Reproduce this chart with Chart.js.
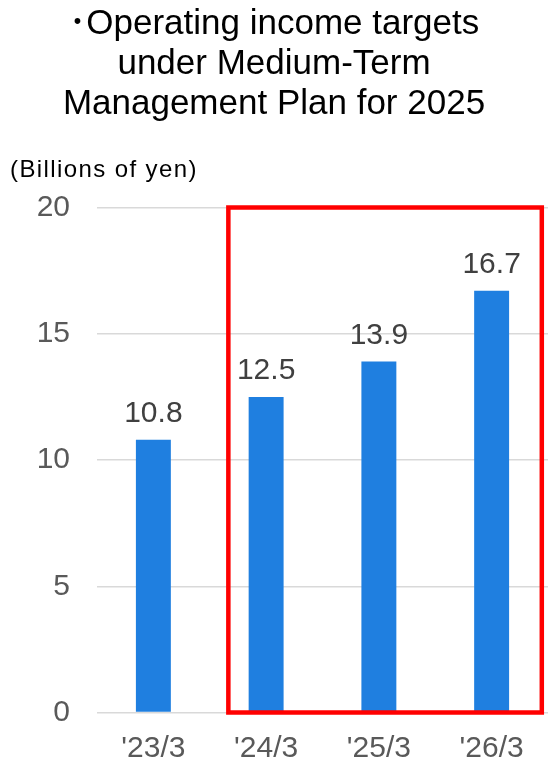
<!DOCTYPE html>
<html>
<head>
<meta charset="utf-8">
<script src="https://cdn.jsdelivr.net/npm/chart.js@4.4.1/dist/chart.umd.min.js"></script>
<style>
  html, body { margin: 0; padding: 0; background: #ffffff; }
  #wrap { width: 548px; height: 771px; }
</style>
</head>
<body>
<div id="wrap"><canvas id="incomeChart"></canvas></div>
<script>
// Operating income, billions of yen ('23/3 actual, then plan targets)
const periods = ["'23/3", "'24/3", "'25/3", "'26/3"];
const operatingIncome = [10.8, 12.5, 13.9, 16.7];
const yTicks = [0, 5, 10, 15, 20];

const titleLines = ['･Operating income targets', 'under Medium-Term', 'Management Plan for 2025'];
const unitText = '(Billions of yen)';

Chart.defaults.font.family = '"Liberation Sans", Arial, "Noto Sans CJK JP", sans-serif';

// value labels above each bar
const valueLabels = {
    id: 'valueLabels',
    afterDatasetsDraw(chart) {
        const ctx = chart.ctx;
        const meta = chart.getDatasetMeta(0);
        ctx.save();
        ctx.font = '30px "Liberation Sans", Arial, sans-serif';
        ctx.fillStyle = '#404040';
        ctx.textAlign = 'center';
        ctx.textBaseline = 'alphabetic';
        meta.data.forEach((bar, i) => {
            ctx.fillText(operatingIncome[i].toFixed(1), bar.x, bar.y - 17.5);
        });
        ctx.restore();
    }
};

// red frame around the plan years
const planFrame = {
    id: 'planFrame',
    afterDatasetsDraw(chart, args, opts) {
        const x = chart.scales.x, y = chart.scales.y;
        const left = x.getPixelForValue(opts.from);
        const right = x.getPixelForValue(opts.to);
        const top = y.getPixelForValue(y.max);
        const bottom = y.getPixelForValue(y.min);
        const ctx = chart.ctx;
        ctx.save();
        ctx.strokeStyle = '#ff0000';
        ctx.lineWidth = 4.5;
        ctx.strokeRect(left, top, right - left, bottom - top);
        ctx.restore();
    }
};

// unit caption above the value axis
const unitLabel = {
    id: 'unitLabel',
    afterDraw(chart) {
        const ctx = chart.ctx;
        ctx.save();
        ctx.font = '24px "Liberation Sans", Arial, sans-serif';
        ctx.letterSpacing = '1.4px';
        ctx.fillStyle = '#000000';
        ctx.textAlign = 'left';
        ctx.textBaseline = 'alphabetic';
        ctx.fillText(unitText, 10, chart.chartArea.top - 31);
        ctx.restore();
    }
};

new Chart(document.getElementById('incomeChart'), {
    type: 'bar',
    data: {
        labels: periods,
        datasets: [{
            data: operatingIncome,
            backgroundColor: '#1f7fe0',
            categoryPercentage: 1,
            barPercentage: 0.31
        }]
    },
    options: {
        responsive: true,
        maintainAspectRatio: false,
        animation: false,
        layout: { padding: 0 },
        plugins: {
            legend: { display: false },
            tooltip: { enabled: false },
            title: {
                display: true,
                text: titleLines,
                color: '#000000',
                font: { size: 35, weight: 'normal', lineHeight: 40 / 35 },
                padding: { top: 4, bottom: 83.5 }
            },
            planFrame: { from: 0.665, to: 3.445 }
        },
        scales: {
            x: {
                afterFit(scale) { scale.height = 58.5; },
                grid: { display: false, drawTicks: false },
                border: { display: false },
                ticks: { color: '#595959', font: { size: 30 }, padding: 18 }
            },
            y: {
                min: 0,
                max: 20,
                afterFit(scale) { scale.width = 97; },
                afterBuildTicks(scale) { scale.ticks = yTicks.map(v => ({ value: v })); },
                grid: { color: '#d9d9d9', lineWidth: 1.5, drawTicks: false },
                border: { display: false },
                ticks: { color: '#595959', font: { size: 30 }, padding: 27 }
            }
        }
    },
    plugins: [valueLabels, planFrame, unitLabel]
});
</script>
</body>
</html>
